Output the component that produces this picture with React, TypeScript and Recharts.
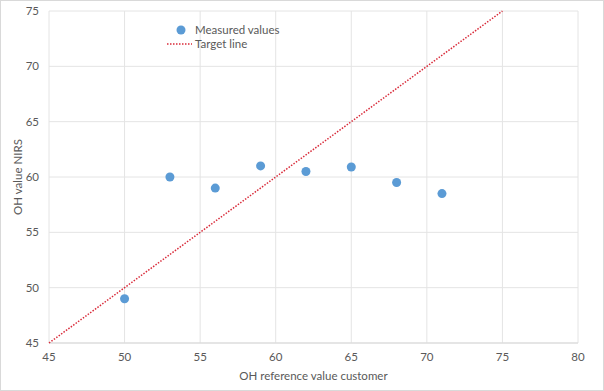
import React from 'react';
import {
  ScatterChart,
  Scatter,
  XAxis,
  YAxis,
  CartesianGrid,
  Label
} from "recharts";

const refValues = [50, 53, 56, 59, 62, 65, 68, 71];
const nirsValues = [49, 60, 59, 61, 60.5, 60.9, 59.5, 58.5];
const targetX = [45, 75];
const targetY = [45, 75];
const xTicks = [45, 50, 55, 60, 65, 70, 75, 80];
const yTicks = [45, 50, 55, 60, 65, 70, 75];

const measured = refValues.map((x, i) => ({ x, y: nirsValues[i] }));
const target = targetX.map((x, i) => ({ x, y: targetY[i] }));

const FONT = "Lato, 'Open Sans', sans-serif";
const TEXT = "#595959";
const BLUE = "#5b9bd5";
const RED = "#d92b3a";

const LegendBox = () => (
  <div style={{ position: 'absolute', top: 23, left: 167, fontFamily: FONT, fontSize: 11.5, color: TEXT, lineHeight: '14px' }}>
    <div style={{ display: 'flex', alignItems: 'center' }}>
      <svg width={28} height={14}>
        <circle cx={14} cy={7} r={4.5} fill={BLUE} />
      </svg>
      <span>Measured values</span>
    </div>
    <div style={{ display: 'flex', alignItems: 'center' }}>
      <svg width={28} height={14}>
        <line x1={0} y1={7} x2={25} y2={7} stroke={RED} strokeWidth={1.5} strokeDasharray="1.5 1.5" />
      </svg>
      <span>Target line</span>
    </div>
  </div>
);

export default function App() {
  return (
    <div style={{ position: 'absolute', left: 0, top: 0, width: 604, height: 391, background: '#fff' }}>
      <ScatterChart
        width={604}
        height={391}
        margin={{ top: 11, right: 26, left: 0, bottom: 0 }}
      >
        <CartesianGrid stroke="#e4e4e4" />
        <XAxis
          type="number"
          dataKey="x"
          domain={[45, 80]}
          ticks={xTicks}
          height={48}
          tickSize={0}
          tickMargin={10}
          axisLine={{ stroke: '#d9d9d9' }}
          tick={{ fill: TEXT, fontSize: 11.5, fontFamily: FONT }}
        >
          <Label
            value="OH reference value customer"
            position="insideBottom"
            offset={11}
            style={{ fill: TEXT, fontSize: 11.5, fontFamily: FONT }}
          />
        </XAxis>
        <YAxis
          type="number"
          dataKey="y"
          domain={[45, 75]}
          ticks={yTicks}
          width={49}
          tickSize={0}
          tickMargin={10}
          axisLine={false}
          tick={{ fill: TEXT, fontSize: 11.5, fontFamily: FONT }}
        >
          <Label
            content={({ viewBox }: any) => {
              const cx = 17;
              const cy = viewBox.y + viewBox.height / 2;
              return (
                <text
                  x={cx}
                  y={cy}
                  transform={`rotate(-90, ${cx}, ${cy})`}
                  textAnchor="middle"
                  dominantBaseline="central"
                  fill={TEXT}
                  fontSize={11.5}
                  fontFamily={FONT}
                >
                  OH value NIRS
                </text>
              );
            }}
          />
        </YAxis>
        <Scatter
          name="Target line"
          data={target}
          line={{ stroke: RED, strokeWidth: 1.5, strokeDasharray: '1.5 1.5' }}
          shape={() => <g />}
          isAnimationActive={false}
        />
        <Scatter
          name="Measured values"
          data={measured}
          fill={BLUE}
          shape={(props: any) => <circle cx={props.cx} cy={props.cy} r={4.5} fill={BLUE} />}
          isAnimationActive={false}
        />
      </ScatterChart>
      <LegendBox />
      <div style={{ position: 'absolute', left: 0, top: 0, width: 604, height: 391, boxSizing: 'border-box', border: '1px solid #d9d9d9', pointerEvents: 'none' }} />
    </div>
  );
}
